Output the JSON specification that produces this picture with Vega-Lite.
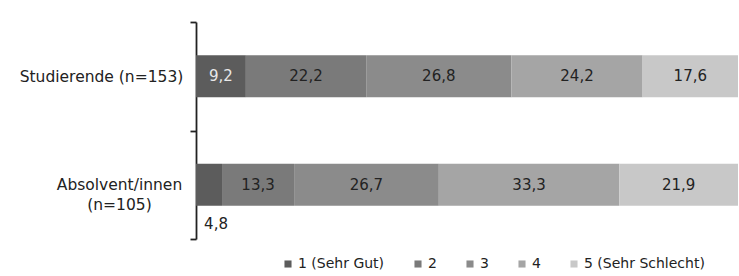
{
  "$schema": "https://vega.github.io/schema/vega-lite/v6.json",
  "width": 542,
  "height": 217,
  "autosize": {"type": "none"},
  "padding": {"left": 196, "top": 22, "right": 1, "bottom": 37},
  "background": "white",
  "config": {"view": {"stroke": null}, "font": "DejaVu Sans"},
  "data": {
    "values": [
      {"group": "Studierende (n=153)", "cat": "1 (Sehr Gut)", "value": 9.2},
      {"group": "Studierende (n=153)", "cat": "2", "value": 22.2},
      {"group": "Studierende (n=153)", "cat": "3", "value": 26.8},
      {"group": "Studierende (n=153)", "cat": "4", "value": 24.2},
      {"group": "Studierende (n=153)", "cat": "5 (Sehr Schlecht)", "value": 17.6},
      {"group": "Absolvent/innen (n=105)", "cat": "1 (Sehr Gut)", "value": 4.8},
      {"group": "Absolvent/innen (n=105)", "cat": "2", "value": 13.3},
      {"group": "Absolvent/innen (n=105)", "cat": "3", "value": 26.7},
      {"group": "Absolvent/innen (n=105)", "cat": "4", "value": 33.3},
      {"group": "Absolvent/innen (n=105)", "cat": "5 (Sehr Schlecht)", "value": 21.9}
    ]
  },
  "transform": [
    {"stack": "value", "groupby": ["group"], "sort": [{"field": "cat", "order": "ascending"}], "as": ["v0", "v1"]},
    {"calculate": "(datum.v0 + datum.v1) / 2", "as": "mid"},
    {"calculate": "replace(format(datum.value, '.1f'), '.', ',')", "as": "label"}
  ],
  "encoding": {
    "y": {
      "field": "group",
      "type": "nominal",
      "sort": ["Studierende (n=153)", "Absolvent/innen (n=105)"],
      "scale": {"paddingInner": 0, "paddingOuter": 0},
      "axis": {
        "title": null,
        "domainColor": "#222222",
        "domainWidth": 1.8,
        "tickColor": "#222222",
        "tickWidth": 1.8,
        "tickSize": 6,
        "tickBand": "extent",
        "labelPadding": {"condition": {"test": "datum.value == 'Studierende (n=153)'", "value": 89}, "value": 71},
        "labelAlign": "center",
        "labelFontSize": 15.5,
        "labelColor": "#222222",
        "labelLineHeight": 20,
        "labelExpr": "datum.value == 'Absolvent/innen (n=105)' ? ['Absolvent/innen', '(n=105)'] : datum.value"
      }
    }
  },
  "layer": [
    {
      "mark": {"type": "bar", "height": 42},
      "encoding": {
        "x": {"field": "v0", "type": "quantitative", "scale": {"domain": [0, 100], "nice": false}, "axis": null},
        "x2": {"field": "v1"},
        "color": {
          "field": "cat",
          "type": "nominal",
          "scale": {
            "domain": ["1 (Sehr Gut)", "2", "3", "4", "5 (Sehr Schlecht)"],
            "range": ["#5c5c5c", "#7a7a7a", "#8b8b8b", "#a5a5a5", "#c8c8c8"]
          },
          "legend": {
            "title": null,
            "orient": "none",
            "legendX": 85,
            "legendY": 235,
            "direction": "horizontal",
            "symbolType": "square",
            "symbolSize": 50,
            "symbolStrokeWidth": 0,
            "labelFontSize": 14,
            "labelColor": "#222222",
            "labelOffset": 3,
            "columnPadding": 26
          }
        }
      }
    },
    {
      "transform": [{"filter": "datum.value >= 6"}],
      "mark": {"type": "text", "fontSize": 15, "baseline": "middle"},
      "encoding": {
        "x": {"field": "mid", "type": "quantitative"},
        "text": {"field": "label"},
        "color": {"condition": {"test": "datum.cat == '1 (Sehr Gut)'", "value": "#e8e8e8"}, "value": "#222222"}
      }
    },
    {
      "transform": [{"filter": "datum.value < 6"}],
      "mark": {"type": "text", "fontSize": 15, "baseline": "middle", "dy": 39, "dx": 7, "color": "#222222"},
      "encoding": {
        "x": {"field": "mid", "type": "quantitative"},
        "text": {"field": "label"}
      }
    }
  ]
}
